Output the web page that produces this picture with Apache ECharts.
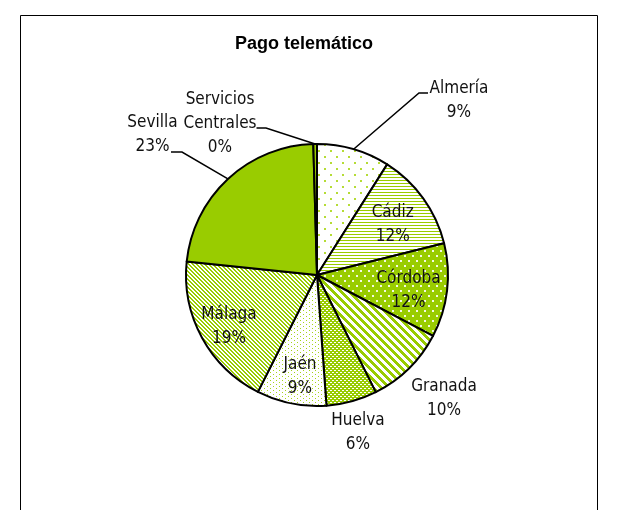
<!DOCTYPE html>
<html>
<head>
<meta charset="utf-8">
<script src="https://cdn.jsdelivr.net/npm/echarts@6/dist/echarts.min.js"></script>
<style>
html,body{margin:0;padding:0;background:#fff;}
#chart{width:617px;height:510px;}
</style>
</head>
<body>
<div id="chart"></div>
<script>
// ---- data ----
const categories = ['Almería', 'Cádiz', 'Córdoba', 'Granada', 'Huelva', 'Jaén', 'Málaga', 'Sevilla', 'Servicios Centrales'];
const labelNames = ['Almería', 'Cádiz', 'Córdoba', 'Granada', 'Huelva', 'Jaén', 'Málaga', 'Sevilla', 'Servicios\nCentrales'];
const shares = [9.0, 12.1, 11.6, 9.9, 6.25, 8.6, 19.2, 22.9, 0.45];
const chartTitle = 'Pago telemático';

// ---- layout (label placement relative to pie centre, px) ----
const CX = 317, CY = 275, R = 131;
const labelSpots = [
  { pos: 'outside', text: [142, -174.5], line: [[102, -182], [111, -182]] },
  { pos: 'inside', text: [75.7, -50.5] },
  { pos: 'inside', text: [91.5, 16] },
  { pos: 'outside', text: [127, 124] },
  { pos: 'outside', text: [41, 157.5] },
  { pos: 'inside', text: [-17, 102] },
  { pos: 'inside', text: [-88, 52] },
  { pos: 'outside', text: [-164.5, -140.5], line: [[-135, -123], [-146, -123]] },
  { pos: 'outside', text: [-97, -151.5], line: [[-51, -147], [-60.5, -147]] }
];

const GREEN = '#99CC00';
const FONT = "'DejaVu Sans Condensed', 'Liberation Sans Narrow', sans-serif";

function tile(w, h, bg, fg, fn) {
  const c = document.createElement('canvas');
  c.width = w; c.height = h;
  const ctx = c.getContext('2d');
  ctx.fillStyle = bg; ctx.fillRect(0, 0, w, h);
  ctx.fillStyle = fg;
  for (let y = 0; y < h; y++) for (let x = 0; x < w; x++) if (fn(x, y)) ctx.fillRect(x, y, 1, 1);
  return { image: c, repeat: 'repeat' };
}
function inDot(x, y, pts, s) {
  return pts.some(p => x >= p[0] && x < p[0] + s && y >= p[1] && y < p[1] + s);
}
const fills = [
  tile(12, 12, '#ffffff', '#b5dc35', (x, y) => inDot(x, y, [[0, 0], [6, 6]], 2)),
  tile(4, 3, '#ffffff', GREEN, (x, y) => y === 0),
  tile(8, 10, GREEN, '#f4fae0', (x, y) => inDot(x, y, [[0, 0], [4, 5]], 2)),
  tile(8, 8, '#ffffff', GREEN, (x, y) => (((x - y) % 8) + 8) % 8 < 4),
  tile(4, 4, GREEN, '#ffffff', (x, y) => (y === 0 && x < 2) || (y === 2 && x >= 2)),
  tile(6, 4, '#ffffff', '#a6d41a', (x, y) => (x === 0 && y === 0) || (x === 3 && y === 2)),
  tile(4, 4, '#ffffff', GREEN, (x, y) => (((x - y) % 4) + 4) % 4 < 2),
  GREEN,
  GREEN
];

const data = categories.map((c, i) => {
  const spot = labelSpots[i];
  return {
    name: c,
    value: shares[i],
    itemStyle: { color: fills[i] },
    label: { position: spot.pos },
    labelLine: { show: !!spot.line }
  };
});

const chart = echarts.init(document.getElementById('chart'), null, { renderer: 'canvas' });
chart.setOption({
  backgroundColor: '#ffffff',
  animation: false,
  title: {
    text: chartTitle,
    left: 304,
    top: 35,
    padding: 0,
    textAlign: 'center',
    textStyle: { fontFamily: "'Liberation Sans', Arial, sans-serif", fontWeight: 'bold', fontSize: 18, color: '#000' }
  },
  graphic: [{
    type: 'rect',
    shape: { x: 20.5, y: 15.5, width: 577, height: 520 },
    style: { fill: null, stroke: '#000', lineWidth: 1 },
    silent: true
  }],
  series: [{
    type: 'pie',
    center: [CX, CY],
    radius: R,
    startAngle: 90,
    clockwise: true,
    avoidLabelOverlap: false,
    silent: true,
    emphasis: { disabled: true },
    itemStyle: { borderColor: '#000', borderWidth: 2 },
    label: {
      show: true,
      color: '#111',
      fontFamily: FONT,
      fontSize: 17,
      lineHeight: 24,
      align: 'center',
      formatter: p => labelNames[p.dataIndex] + '\n' + Math.round(p.percent) + '%'
    },
    labelLine: { show: true, smooth: false, lineStyle: { color: '#000', width: 1.5 } },
    labelLayout: function (params) {
      const i = params.dataIndex;
      const spot = labelSpots[i];
      const out = {
        x: CX + spot.text[0],
        y: CY + spot.text[1],
        align: 'center',
        verticalAlign: 'middle'
      };
      if (spot.line) {
        let start;
        if (params.labelLinePoints && params.labelLinePoints[0]) {
          start = params.labelLinePoints[0];
        } else {
          let cum = 0, tot = 0;
          shares.forEach((v, k) => { tot += v; if (k < i) cum += v; });
          const a = (cum + shares[i] / 2) / tot * Math.PI * 2;
          start = [CX + R * Math.sin(a), CY - R * Math.cos(a)];
        }
        out.labelLinePoints = [start].concat(spot.line.map(p => [CX + p[0], CY + p[1]]));
      }
      return out;
    },
    data: data
  }]
});
</script>
</body>
</html>
